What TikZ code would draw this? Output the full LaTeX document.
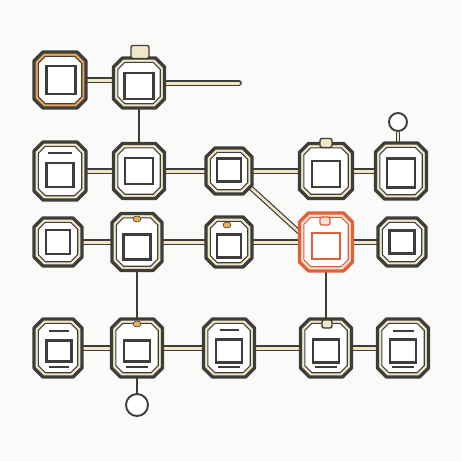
\documentclass[tikz,border=0pt]{standalone}
\usetikzlibrary{shapes.geometric}
\definecolor{dk}{HTML}{3D3D3A}
\definecolor{cream}{HTML}{F1E6C8}
\definecolor{tanc}{HTML}{E6A456}
\definecolor{orng}{HTML}{E0603A}
\definecolor{peach}{HTML}{FBE3D6}
\definecolor{bgc}{HTML}{FAFAF8}
\definecolor{goldc}{HTML}{E8B060}
\pgfdeclarelayer{bgl}\pgfdeclarelayer{conn}
\pgfsetlayers{bgl,conn,main}
\tikzset{
 octbox/.style={rectangle, draw=none, inner sep=0pt, outer sep=0pt},
 plainO/.style={draw=dk, line width=3.4pt, fill=cream, line join=round},
 plainI/.style={draw=dk, line width=1.1pt, fill=white},
 tanO/.style={draw=dk, line width=3.4pt, fill=tanc, line join=round},
 tanI/.style={draw=dk, line width=1.1pt, fill=white},
 orO/.style={draw=orng, line width=3.4pt, fill=peach, line join=round},
 orI/.style={draw=orng, line width=1.1pt, fill=white},
 insq/.style={rectangle, draw=dk, line width=2.8pt, fill=white, inner sep=0pt},
 insqor/.style={insq, draw=orng},
 tabbox/.style={rectangle, rounded corners=2pt, draw=dk, line width=1.4pt, fill=cream, inner sep=0pt, minimum width=12pt, minimum height=9pt},
 dotc/.style={ellipse, fill=goldc, draw=dk, line width=0.6pt, inner sep=0pt, minimum width=8pt, minimum height=6pt},
 hlink/.style={draw=dk, line width=1.4pt, double=cream, double distance=3pt},
 vlink/.style={draw=dk, line width=1.4pt},
 ring/.style={circle, draw=dk, line width=1.9pt, fill=white, inner sep=0pt},
 bar/.style={draw=dk, line width=1.6pt}
}
\newcommand\octo[6]{%
 \node[octbox, minimum width=#4pt, minimum height=#5pt] (#1) at (#2,#3) {};
 \draw[#6O] ([xshift=9pt]#1.north west) -- ([xshift=-9pt]#1.north east) -- ([yshift=-9pt]#1.north east)
   -- ([yshift=9pt]#1.south east) -- ([xshift=-9pt]#1.south east) -- ([xshift=9pt]#1.south west)
   -- ([yshift=9pt]#1.south west) -- ([yshift=-9pt]#1.north west) -- cycle;
 \draw[#6I] ([xshift=11.3pt,yshift=-4.3pt]#1.north west) -- ([xshift=-11.3pt,yshift=-4.3pt]#1.north east)
   -- ([xshift=-4.3pt,yshift=-11.3pt]#1.north east) -- ([xshift=-4.3pt,yshift=11.3pt]#1.south east)
   -- ([xshift=-11.3pt,yshift=4.3pt]#1.south east) -- ([xshift=11.3pt,yshift=4.3pt]#1.south west)
   -- ([xshift=4.3pt,yshift=11.3pt]#1.south west) -- ([xshift=4.3pt,yshift=-11.3pt]#1.north west) -- cycle;
}
\begin{document}
\begin{tikzpicture}[x=1pt,y=-1pt]
\begin{pgfonlayer}{bgl}
\fill[bgc] (0,0) rectangle (461,461);
\end{pgfonlayer}
\useasboundingbox (0,0) rectangle (461,461);
% row 1
\octo{A1}{60}{80}{52}{56}{tan}
\node[insq, minimum width=29pt, minimum height=28pt] (A1i) at (61,80) {};
\octo{A2}{139}{83}{51}{50}{plain}
\node[insq, minimum width=29pt, minimum height=26pt] (A2i) at (139,86) {};
\node[tabbox, minimum width=18pt, minimum height=13pt] (A2t) at (140,52) {};
\coordinate (Aend) at (239,83);
% row 2
\octo{B1}{60}{171}{52}{58}{plain}
\node[insq, minimum width=27pt, minimum height=24pt] (B1i) at (60,175) {};
\octo{B2}{139}{171}{51}{55}{plain}
\node[insq, minimum width=28pt, minimum height=26pt] (B2i) at (139,171) {};
\octo{B3}{229}{171}{46}{46}{plain}
\node[insq, minimum width=24pt, minimum height=23pt] (B3i) at (229,170) {};
\octo{B4}{326}{171}{53}{55}{plain}
\node[insq, minimum width=28pt, minimum height=26pt] (B4i) at (326,174) {};
\node[tabbox] (B4t) at (326,143) {};
\octo{B5}{401}{171}{51}{56}{plain}
\node[insq, minimum width=28pt, minimum height=29pt] (B5i) at (401,173) {};
\node[ring, minimum size=18pt] (B5r) at (398,122) {};
% row 3
\octo{C1}{58}{242}{48}{48}{plain}
\node[insq, minimum width=24pt, minimum height=24pt] (C1i) at (58,242) {};
\octo{C2}{137}{242}{50}{57}{plain}
\node[insq, minimum width=27pt, minimum height=25pt] (C2i) at (137,247) {};
\node[dotc] (C2d) at (137,219) {};
\octo{C3}{229}{242}{46}{50}{plain}
\node[insq, minimum width=24pt, minimum height=23pt] (C3i) at (229,246) {};
\node[dotc] (C3d) at (227,225) {};
\octo{C4}{326}{242}{53}{58}{or}
\node[insqor, minimum width=28pt, minimum height=26pt] (C4i) at (326,246) {};
\node[tabbox, draw=orng, fill=peach, minimum width=10pt, minimum height=8pt] (C4t) at (325,221) {};
\octo{C5}{402}{242}{48}{48}{plain}
\node[insq, minimum width=25pt, minimum height=23pt] (C5i) at (402,242) {};
% row 4
\octo{D1}{58}{348}{48}{58}{plain}
\node[insq, minimum width=25pt, minimum height=21pt] (D1i) at (59,351) {};
\octo{D2}{137}{348}{51}{58}{plain}
\node[insq, minimum width=26pt, minimum height=21pt] (D2i) at (137,351) {};
\node[dotc] (D2d) at (137,324) {};
\octo{D3}{229}{348}{51}{58}{plain}
\node[insq, minimum width=26pt, minimum height=23pt] (D3i) at (229,351) {};
\octo{D4}{326}{348}{51}{58}{plain}
\node[insq, minimum width=26pt, minimum height=23pt] (D4i) at (326,351) {};
\node[tabbox, minimum width=10pt, minimum height=8pt] (D4t) at (327,324) {};
\octo{D5}{403}{348}{51}{58}{plain}
\node[insq, minimum width=26pt, minimum height=23pt] (D5i) at (403,351) {};
\node[ring, minimum size=22pt] (D2r) at (137,405) {};
% bars
\draw[bar] (48,153) -- (72,153);
\draw[bar] (49,331) -- (69,331);
\draw[bar] (220,330) -- (239,330);
\draw[bar] (393,331) -- (414,331);
\draw[bar] (49,367) -- (69,367);
\draw[bar] (126,367) -- (148,367);
\draw[bar] (218,367) -- (240,367);
\draw[bar] (315,367) -- (337,367);
\draw[bar] (392,367) -- (414,367);
% connectors
\begin{pgfonlayer}{conn}
\draw[hlink] (A1.east) -- (A1.east -| A2.west);
\draw[hlink, line cap=round] (A2) -- (Aend);
\draw[vlink] (A2) -- (B2);
\draw[hlink] (B1) -- (B2);
\draw[hlink] (B2) -- (B3);
\draw[hlink] (B3) -- (B4);
\draw[hlink] (B4) -- (B5);
\draw[hlink, double distance=2pt, line width=1.1pt] (B5r) -- (B5r |- B5.north);
\draw[hlink, double distance=2.6pt, line width=1.2pt, shorten <=-6pt, shorten >=-6pt] (B3.-38) -- (C4.160);
\draw[hlink] (C1) -- (C2);
\draw[hlink] (C2) -- (C3);
\draw[hlink] (C3) -- (C4);
\draw[hlink] (C4) -- (C5);
\draw[vlink] (C2) -- (D2);
\draw[vlink] (C4) -- (D4);
\draw[hlink] (D1) -- (D2);
\draw[hlink] (D2) -- (D3);
\draw[hlink] (D3) -- (D4);
\draw[hlink] (D4) -- (D5);
\draw[vlink] (D2.south) -- (D2r);
\end{pgfonlayer}
\end{tikzpicture}
\end{document}
